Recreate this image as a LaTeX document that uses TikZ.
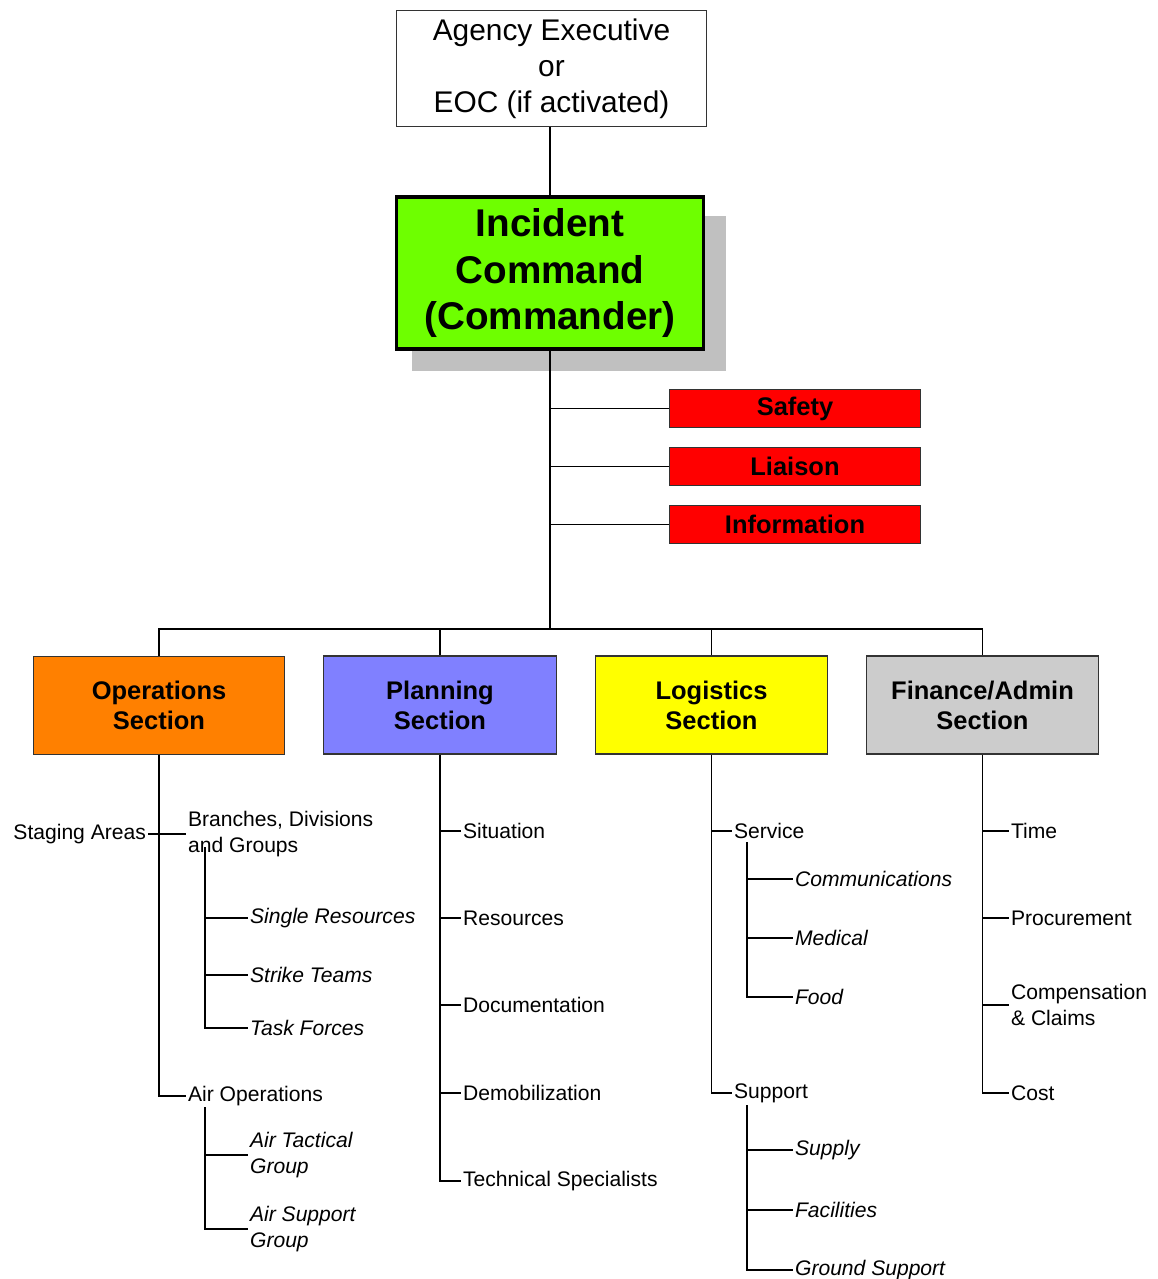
\documentclass[tikz,border=0pt]{standalone}
\usepackage{fontspec}
\setmainfont{Liberation Sans}
\definecolor{cmdGreen}{HTML}{6EFF00}
\definecolor{shadowGray}{HTML}{C0C0C0}
\definecolor{staffRed}{HTML}{FF0000}
\definecolor{opsOrange}{HTML}{FF8000}
\definecolor{planBlue}{HTML}{8080FF}
\definecolor{logYellow}{HTML}{FFFF00}
\definecolor{finGray}{HTML}{CCCCCC}
\usetikzlibrary{shadows}

\begin{document}
\begin{tikzpicture}[
    x=0.02cm, y=-0.02cm,
    agbox/.style={rectangle, draw=black!80, line width=0.6pt, fill=white, minimum width=6.2cm, minimum height=2.32cm, align=center, font=\fontsize{17}{20.4}\selectfont},
    cmdbox/.style={rectangle, draw=black, line width=2.2pt, fill=cmdGreen, minimum width=6.14cm, minimum height=3.04cm, align=center, font=\fontsize{22}{26.6}\selectfont\bfseries, general shadow={fill=shadowGray, shadow xshift=0.37cm, shadow yshift=-0.4cm, shadow scale=1.025}},
    staffbox/.style={rectangle, draw=black!80, line width=0.6pt, fill=staffRed, minimum width=5.02cm, minimum height=0.76cm, font=\fontsize{14.5}{17}\selectfont\bfseries},
    secbox/.style={rectangle, draw=black!80, line width=0.7pt, minimum height=1.96cm, align=center, font=\fontsize{14.5}{17}\selectfont\bfseries},
    leaf/.style={anchor=west, inner sep=1pt, align=left, font=\fontsize{12}{15}\selectfont},
    leafit/.style={leaf, font=\fontsize{12}{15}\selectfont\itshape},
    trunk/.style={line width=1pt},
    tick/.style={line width=0.6pt}
]
\useasboundingbox (0,0) rectangle (1158,1279);
% command staff
\node[agbox] (agency) at (551.5,68.5) {Agency Executive\\or\\EOC (if activated)};
\node[cmdbox] (ic) at (550,273) {Incident\\Command\\(Commander)};
\node[staffbox] (safety) at (795,408.5) {Safety};
\node[staffbox] (liaison) at (795,466.5) {Liaison};
\node[staffbox] (info) at (795,524.5) {Information};
\coordinate (bus) at (550,629);
% sections
\node[secbox, fill=opsOrange, minimum width=5.02cm] (ops) at (159,705.5) {Operations\\Section};
\node[secbox, fill=planBlue, minimum width=4.66cm] (plan) at (440,705) {Planning\\Section};
\node[secbox, fill=logYellow, minimum width=4.64cm] (log) at (711.5,705) {Logistics\\Section};
\node[secbox, fill=finGray, minimum width=4.64cm] (fin) at (982.5,705) {Finance/Admin\\Section};
% operations units
\node[leaf, anchor=east] (stag) at (148,834) {Staging Areas};
\node[leaf] (branch) at (186,834) {Branches, Divisions\\and Groups};
\node[leafit] (single) at (248,918) {Single Resources};
\node[leafit] (strike) at (248,975) {Strike Teams};
\node[leafit] (taskf) at (248,1028) {Task Forces};
\node[leaf] (airops) at (186,1096) {Air Operations};
\node[leafit] (airtac) at (248,1155) {Air Tactical\\Group};
\node[leafit] (airsup) at (248,1229) {Air Support\\Group};
\coordinate (bdgtop) at (205,847);
\coordinate (airtop) at (205,1107);
% planning units
\node[leaf] (sit) at (461,831) {Situation};
\node[leaf] (res) at (461,918) {Resources};
\node[leaf] (doc) at (461,1005) {Documentation};
\node[leaf] (demob) at (461,1093) {Demobilization};
\node[leaf] (tech) at (461,1181) {Technical Specialists};
% logistics units
\node[leaf] (serv) at (732,831) {Service};
\node[leafit] (comm) at (793,879) {Communications};
\node[leafit] (med) at (793,938) {Medical};
\node[leafit] (food) at (793,997) {Food};
\node[leaf] (supp) at (732,1093) {Support};
\node[leafit] (supply) at (793,1150) {Supply};
\node[leafit] (facil) at (793,1210) {Facilities};
\node[leafit] (ground) at (793,1270) {Ground Support};
\coordinate (servtop) at (747,842);
\coordinate (supptop) at (747,1105);
% finance units
\node[leaf] (time) at (1009,831) {Time};
\node[leaf] (proc) at (1009,918) {Procurement};
\node[leaf] (comp) at (1009,1005) {Compensation\\\& Claims};
\node[leaf] (cost) at (1009,1093) {Cost};

% connectors
\draw[tick] (ic.north |- agency.south) -- (ic.north);
\draw[trunk] (ic.south) -- (bus);
\draw[tick] (ic.south |- safety.west) -- (safety.west);
\draw[tick] (ic.south |- liaison.west) -- (liaison.west);
\draw[tick] (ic.south |- info.west) -- (info.west);
\draw[trunk] (ops.north) |- (bus) -| (fin.north);
\draw[trunk] (plan.north) -- (plan.north |- bus);
\draw[trunk] (log.north) -- (log.north |- bus);

\draw[trunk] (ops.south) |- (airops.west);
\draw[tick] (stag.east) -- (branch.west);
\draw[tick] (bdgtop) |- (taskf.west);
\draw[tick] (bdgtop |- single.west) -- (single.west);
\draw[tick] (bdgtop |- strike.west) -- (strike.west);
\draw[tick] (airtop) |- (airsup.west);
\draw[tick] (airtop |- airtac.west) -- (airtac.west);

\draw[trunk] (plan.south) |- (tech.west);
\draw[tick] (plan.south |- sit.west) -- (sit.west);
\draw[tick] (plan.south |- res.west) -- (res.west);
\draw[tick] (plan.south |- doc.west) -- (doc.west);
\draw[tick] (plan.south |- demob.west) -- (demob.west);

\draw[trunk] (log.south) |- (supp.west);
\draw[tick] (log.south |- serv.west) -- (serv.west);
\draw[tick] (servtop) |- (food.west);
\draw[tick] (servtop |- comm.west) -- (comm.west);
\draw[tick] (servtop |- med.west) -- (med.west);
\draw[tick] (supptop) |- (ground.west);
\draw[tick] (supptop |- supply.west) -- (supply.west);
\draw[tick] (supptop |- facil.west) -- (facil.west);

\draw[trunk] (fin.south) |- (cost.west);
\draw[tick] (fin.south |- time.west) -- (time.west);
\draw[tick] (fin.south |- proc.west) -- (proc.west);
\draw[tick] (fin.south |- comp.west) -- (comp.west);
\end{tikzpicture}
\end{document}
